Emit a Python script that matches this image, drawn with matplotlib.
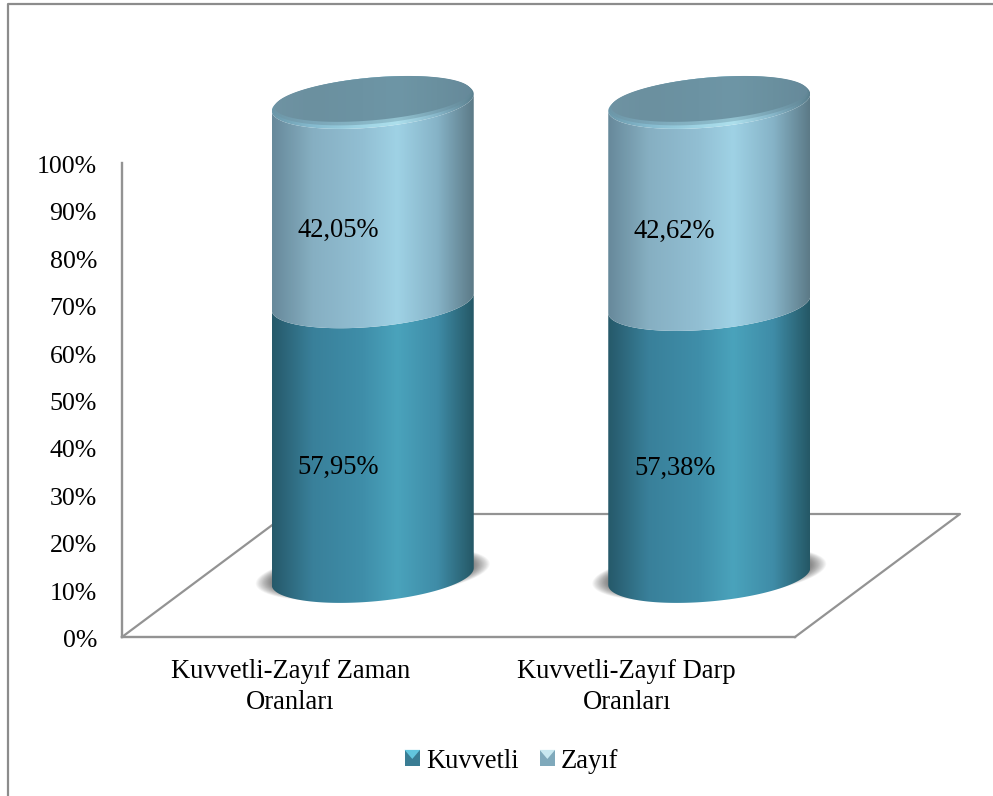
#!/usr/bin/env python3
# 3D look stacked cylinder chart, Kuvvetli / Zayif ratios

import numpy as np
import matplotlib
matplotlib.use('Agg')
import matplotlib.pyplot as plt
from matplotlib.colors import LinearSegmentedColormap
from matplotlib.legend_handler import HandlerBase
from matplotlib.lines import Line2D
from matplotlib.patches import Patch, Polygon
from matplotlib.transforms import ScaledTranslation

plt.rcParams['font.family'] = ['Liberation Serif', 'DejaVu Serif']

categories = ['Kuvvetli-Zayıf Zaman\nOranları', 'Kuvvetli-Zayıf Darp\nOranları']
kuvvetli = [57.95, 57.38]
zayif = [42.05, 42.62]
series_names = ['Kuvvetli', 'Zayıf']
y_ticks = [0, 10, 20, 30, 40, 50, 60, 70, 80, 90, 100]

W, H = 993, 796
GREY = '#939393'
FS = 19.1

dark_stops = ['#26596a', '#39809a', '#3f8ea9', '#4aa3bc', '#3f8ca7', '#255866']
light_stops = ['#67899a', '#86afc2', '#92bfd3', '#9fd2e5', '#86b3c7', '#5c7a87']
rim_stops = ['#6b98aa', '#86bbcf', '#9fd4e4', '#aee0ed', '#86b5c8', '#5a7f8e']
rim2_stops = ['#6d96a7', '#7aa6b8', '#88b6c6', '#92c2d0', '#78a2b3', '#608594']
top_stops = ['#6f93a3', '#6b909f', '#6c93a3', '#6e96a6', '#6a909f', '#66899a']
stop_pos = [0, 0.2, 0.45, 0.62, 0.82, 1]

fig = plt.figure(figsize=(W / 100, H / 100), dpi=100)
ax = fig.add_axes([122 / W, (H - 637) / H, 673 / W, 474 / H])
ax.set_xlim(-0.5, 1.5)
ax.set_ylim(0, 100)
ax.patch.set_alpha(0)

# px to data units
ux = 2 / 673
uy = 100 / 474
depth_x = 165 * ux
depth_y = 123 * uy
half_w = 101 * ux
ell_b = 25 * uy
ell_tilt = 8.5 * uy


def ellipse(cx, cy, a=half_w, b=ell_b, t0=0, t1=2 * np.pi):
    t = np.linspace(t0, t1, 200)
    return np.column_stack([cx + a * np.cos(t), cy + ell_tilt * np.cos(t) * a / half_w + b * np.sin(t)])


def front_arc(cx, cy):
    return ellipse(cx, cy, t0=np.pi, t1=2 * np.pi)


def gradient_fill(outline, cx, y_lo, y_hi, stops, zorder):
    # horizontal gradient, clipped to outline
    cmap = LinearSegmentedColormap.from_list('g', list(zip(stop_pos, stops)))
    clip = Polygon(outline, closed=True, facecolor='none', edgecolor='none', clip_on=False, zorder=zorder)
    ax.add_patch(clip)
    im = ax.imshow(np.linspace(0, 1, 256).reshape(1, -1), cmap=cmap, aspect='auto',
                   extent=(cx - half_w, cx + half_w, y_lo, y_hi), zorder=zorder, interpolation='bilinear')
    im.set_clip_box(fig.bbox)
    im.set_clip_path(clip)


# floor
x0, x1 = ax.get_xlim()
ax.plot([x0, x0 + depth_x, x1 + depth_x, x1], [0, depth_y, depth_y, 0],
        color=GREY, lw=1.6, clip_on=False, zorder=1)

for i in range(len(categories)):
    cx = i + depth_x / 2
    base = depth_y / 2 - 1 * uy

    # soft shadow under the cylinder
    for s in np.linspace(1, 0, 18):
        sh = ellipse(cx, base + 0.6, a=half_w + (1 + 15 * s) * ux, b=ell_b - 0.8 + 1.0 * s)
        ax.add_patch(Polygon(sh, closed=True, facecolor='black', edgecolor='none',
                             alpha=0.03, clip_on=False, zorder=2))

    y_mid = base + kuvvetli[i]
    y_top = y_mid + zayif[i]

    low = np.vstack([front_arc(cx, base), front_arc(cx, y_mid)[::-1]])
    gradient_fill(low, cx, base - 10, y_mid + 10, dark_stops, 3)

    up = np.vstack([front_arc(cx, y_mid), front_arc(cx, y_top)[::-1]])
    gradient_fill(up, cx, y_mid - 10, y_top + 10, light_stops, 4)

    gradient_fill(ellipse(cx, y_top), cx, y_top - 10, y_top + 10, rim_stops, 5)
    mid_cap = ellipse(cx, y_top + 1.8 * uy, a=half_w - 1.5 * ux, b=ell_b - 1.8 * uy)
    gradient_fill(mid_cap, cx, y_top - 10, y_top + 10, rim2_stops, 6)
    inner = ellipse(cx, y_top + 3.6 * uy, a=half_w - 3 * ux, b=ell_b - 3.6 * uy)
    gradient_fill(inner, cx, y_top - 10, y_top + 10, top_stops, 7)

    # data labels
    for val, bottom in ((kuvvetli[i], 0), (zayif[i], kuvvetli[i])):
        ax.annotate(f'{val:.2f}%'.replace('.', ','), (i, bottom + val / 2),
                    xytext=(34.5, 23.5), textcoords='offset points', ha='center', va='center',
                    fontsize=FS, color='black', zorder=8, annotation_clip=False)

ax.set_xticks(range(len(categories)))
ax.set_xticklabels(categories, fontsize=FS, linespacing=1.3)
ax.set_yticks(y_ticks)
ax.set_yticklabels([f'{t}%' for t in y_ticks], fontsize=18.6)
ax.tick_params(axis='x', length=0, pad=16)
ax.tick_params(axis='y', length=0, pad=18)
shift_down = ScaledTranslation(0, -1.5 / 100, fig.dpi_scale_trans)
for label in ax.get_yticklabels():
    label.set_transform(label.get_transform() + shift_down)
for name in ('top', 'right'):
    ax.spines[name].set_visible(False)
for name in ('left', 'bottom'):
    ax.spines[name].set_color(GREY)
    ax.spines[name].set_linewidth(1.7)
    ax.spines[name].set_zorder(1)


class BevelHandler(HandlerBase):
    # small bevelled square as in the original legend key
    def create_artists(self, legend, orig, xd, yd, width, height, fontsize, trans):
        x, y = -xd, -yd
        base = orig.get_facecolor()
        square = Polygon([(x, y), (x + width, y), (x + width, y + height), (x, y + height)],
                         closed=True, facecolor=base, edgecolor='none', transform=trans)
        tri = Polygon([(x, y + height), (x + width, y + height), (x + width / 2, y + height * 0.45)],
                      closed=True, facecolor=orig.get_edgecolor(), edgecolor='none', transform=trans)
        return [square, tri]


handles = [Patch(facecolor='#3a7d94', edgecolor='#62c6de'), Patch(facecolor='#7fa9bb', edgecolor='#c8e8f0')]
fig.legend(handles, series_names, handler_map={Patch: BevelHandler()}, ncol=2, frameon=False, fontsize=FS,
           loc='center', bbox_to_anchor=(511.5 / W, 1 - 761 / H), handlelength=0.58, handleheight=0.58,
           handletextpad=0.22, columnspacing=0.8, borderpad=0, labelspacing=0)

# chart area border, only top and left are visible
fig.add_artist(Line2D([7.5 / W, 7.5 / W, 1], [0, 1 - 3.5 / H, 1 - 3.5 / H], color='#8c8c8c', lw=1.6))

fig.savefig('out.png', dpi=100, facecolor='white')
